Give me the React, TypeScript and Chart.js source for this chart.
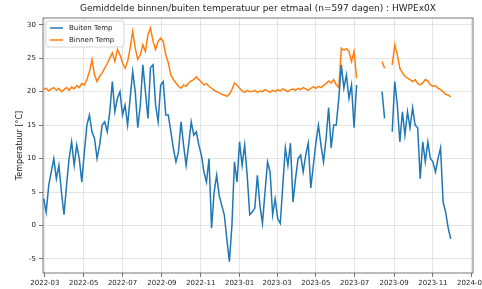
import { useEffect, useRef } from 'react';
import { Chart, registerables } from 'chart.js';

Chart.register(...registerables);

const titleText = 'Gemiddelde binnen/buiten temperatuur per etmaal (n=597 dagen) : HWPEx0X';
const yAxisLabel = 'Temperatuur [°C]';
const seriesLabels = ['Buiten Temp', 'Binnen Temp'];
const startDate = '2022-02-27';
const stepDays = 4;

const buitenTemp: (number | null)[] = [
  4, 2, 6, 8, 10, 7, 9, 5, 1.6, 6,
  10, 12.5, 9, 12, 10, 6.5, 11, 15, 16.5, 14,
  13, 10, 12, 15, 15.5, 14, 17, 21.5, 17, 19,
  20, 16.5, 18, 15, 19, 23, 20, 14.6, 18, 24,
  20, 16, 23.6, 24, 18, 15.5, 21, 21.5, 16.5, 16.5,
  14, 11.5, 9.5, 11, 15.5, 12, 9, 12, 15.5, 13.5,
  14, 12, 10.5, 8, 6.5, 10, -0.4, 5, 7.5, 4.5,
  3, 1.6, -2, -5.4, 0, 9.5, 6.5, 12.5, 9, 12,
  7.5, 1.6, 2, 2.6, 7.5, 3, 0.3, 5, 9.5, 8,
  1.6, 4, 1, 0.3, 6, 11.6, 9, 12.3, 3.5, 7,
  10, 10.5, 8, 10.5, 12.3, 5.6, 9, 12.3, 15, 12,
  9.5, 13, 17.6, 11.6, 15, 15, 19, 24, 20.5, 22.5,
  19, 21, 14.6, 21, null, null, null, null, null, null,
  null, null, null, 20, 16, null, null, 14, 21.5, 18,
  12.5, 17, 13.5, 17, 14.6, 17.6, 15, 14.6, 7, 12.5,
  9.5, 12.5, 10, 9.5, 8, 10, 11.6, 3.5, 2, -0.4,
  -2,
];

const binnenTemp: (number | null)[] = [
  20.3, 20.5, 20.1, 20.4, 20.6, 20.2, 20.5, 20.0, 20.3, 20.6,
  20.2, 20.7, 20.4, 20.9, 20.6, 21.2, 21.0, 21.8, 23.0, 24.8,
  22.5, 21.5, 22.3, 22.8, 23.5, 24.2, 25.0, 25.8, 24.5, 26.3,
  25.5, 24.3, 23.5, 24.5, 26.5, 29.0, 26.5, 24.8, 25.5, 27.0,
  26.0, 28.5, 29.5, 27.5, 26.3, 27.5, 28.0, 27.5, 25.5, 24.3,
  22.5, 21.8, 21.3, 20.8, 20.5, 21.0, 20.8, 21.3, 21.6, 21.8,
  22.2, 21.8, 21.4, 21.0, 21.2, 20.8, 20.5, 20.2, 20.0, 19.8,
  19.6, 19.5, 19.3, 19.6, 20.3, 21.3, 21.0, 20.5, 20.1, 19.9,
  20.2, 20.0, 20.0, 20.2, 19.9, 20.1, 20.0, 20.3, 20.1, 19.9,
  20.2, 20.0, 20.3, 20.1, 20.4, 20.2, 20.0, 20.3, 20.4, 20.2,
  20.5, 20.3, 20.6, 20.4, 20.2, 20.5, 20.7, 20.5, 20.8, 20.6,
  20.9, 21.2, 21.6, 21.3, 21.8, 21.0, 20.6, 26.5, 26.2, 26.4,
  26.0, 24.5, 26.0, 22.0, null, null, null, null, null, null,
  null, null, null, 24.5, 23.5, null, null, 24.0, 27.0, 25.5,
  23.5, 22.8, 22.3, 22.0, 21.8, 21.5, 21.8, 21.2, 21.0, 21.3,
  21.8, 21.6, 21.0, 20.8, 20.9, 20.5, 20.3, 20.0, 19.6, 19.5,
  19.2,
];

const xTickMonths = [
  '2022-03', '2022-05', '2022-07', '2022-09', '2022-11', '2023-01',
  '2023-03', '2023-05', '2023-07', '2023-09', '2023-11', '2024-01',
];
const yTicks = [-5, 0, 5, 10, 15, 20, 25, 30];
const xRange = ['2022-02-26', '2024-01-03'];
const yRange = [-7.1, 31];

const DAY = 86400000;
const ORIGIN = Date.UTC(2022, 2, 1);
const toDay = (iso: string) => Math.round((Date.parse(iso + 'T00:00:00Z') - ORIGIN) / DAY);
const dayToMonth = (d: number) => {
  const dt = new Date(ORIGIN + d * DAY);
  return dt.getUTCFullYear() + '-' + String(dt.getUTCMonth() + 1).padStart(2, '0');
};

const FONT = "'DejaVu Sans', sans-serif";
const BLUE = '#1f77b4';
const ORANGE = '#ff7f0e';

const decorPlugin = {
  id: 'decor',
  afterDraw(chart: any) {
    const { ctx, chartArea } = chart;
    const { left, right, top, bottom } = chartArea;
    ctx.save();
    // frame
    ctx.strokeStyle = '#555';
    ctx.lineWidth = 0.8;
    ctx.strokeRect(left, top, right - left, bottom - top);
    // title
    ctx.fillStyle = '#222';
    ctx.font = `9px ${FONT}`;
    ctx.textAlign = 'center';
    ctx.textBaseline = 'middle';
    ctx.fillText(titleText, (left + right) / 2, 9);
    // y label
    ctx.save();
    ctx.translate(20, (top + bottom) / 2);
    ctx.rotate(-Math.PI / 2);
    ctx.font = `8px ${FONT}`;
    ctx.fillText(yAxisLabel, 0, 0);
    ctx.restore();
    // legend
    const bx = left + 3, by = top + 3, bw = 78, bh = 26;
    ctx.fillStyle = 'rgba(255,255,255,0.85)';
    ctx.strokeStyle = '#cccccc';
    ctx.lineWidth = 0.8;
    ctx.beginPath();
    if ((ctx as any).roundRect) (ctx as any).roundRect(bx, by, bw, bh, 2);
    else ctx.rect(bx, by, bw, bh);
    ctx.fill();
    ctx.stroke();
    const colors = [BLUE, ORANGE];
    ctx.font = `7px ${FONT}`;
    ctx.textAlign = 'left';
    seriesLabels.forEach((lab, k) => {
      const yy = by + 7 + k * 12;
      ctx.strokeStyle = colors[k];
      ctx.lineWidth = 1.5;
      ctx.beginPath();
      ctx.moveTo(bx + 4, yy);
      ctx.lineTo(bx + 17, yy);
      ctx.stroke();
      ctx.fillStyle = '#222';
      ctx.fillText(lab, bx + 23, yy);
    });
    ctx.restore();
  },
};

export default function App() {
  const ref = useRef<HTMLCanvasElement>(null);
  useEffect(() => {
    document.body.style.margin = '0';
    const x0 = toDay(startDate);
    const mk = (arr: (number | null)[]) => arr.map((v, i) => ({ x: x0 + i * stepDays, y: v }));
    const chart = new Chart(ref.current as HTMLCanvasElement, {
      type: 'line',
      data: {
        datasets: [
          { label: seriesLabels[0], data: mk(buitenTemp) as any, borderColor: BLUE, backgroundColor: BLUE, borderWidth: 1.5, pointRadius: 0, spanGaps: false, tension: 0 },
          { label: seriesLabels[1], data: mk(binnenTemp) as any, borderColor: ORANGE, backgroundColor: ORANGE, borderWidth: 1.5, pointRadius: 0, spanGaps: false, tension: 0 },
        ],
      },
      options: {
        responsive: false,
        animation: false,
        parsing: false as any,
        normalized: true,
        layout: { padding: { top: 18, left: 0, right: 9, bottom: 0 } },
        plugins: { legend: { display: false }, title: { display: false }, tooltip: { enabled: false } },
        scales: {
          x: {
            type: 'linear',
            min: toDay(xRange[0]),
            max: toDay(xRange[1]),
            afterBuildTicks: (s: any) => { s.ticks = xTickMonths.map((m) => ({ value: toDay(m + '-01') })); },
            afterFit: (s: any) => { s.height = 16; s.paddingLeft = 0; s.paddingRight = 0; },
            ticks: { autoSkip: false, maxRotation: 0, padding: 2, color: '#222', font: { family: FONT, size: 7 }, callback: (v: any) => dayToMonth(Number(v)) },
            grid: { color: '#dedede', lineWidth: 0.8, tickLength: 4, tickColor: '#555', drawTicks: true },
            border: { display: false },
          },
          y: {
            type: 'linear',
            min: yRange[0],
            max: yRange[1],
            afterBuildTicks: (s: any) => { s.ticks = yTicks.map((v) => ({ value: v })); },
            afterFit: (s: any) => { s.width = 43; s.paddingTop = 0; s.paddingBottom = 0; },
            ticks: { padding: 3, color: '#222', font: { family: FONT, size: 7 }, callback: (v: any) => String(v) },
            grid: { color: '#dedede', lineWidth: 0.8, tickLength: 4, tickColor: '#555', drawTicks: true },
            border: { display: false },
          },
        },
      },
      plugins: [decorPlugin],
    });
    return () => chart.destroy();
  }, []);
  return (
    <div style={{ width: 482, height: 289 }}>
      <canvas ref={ref} width={482} height={289} style={{ display: 'block' }} />
    </div>
  );
}
